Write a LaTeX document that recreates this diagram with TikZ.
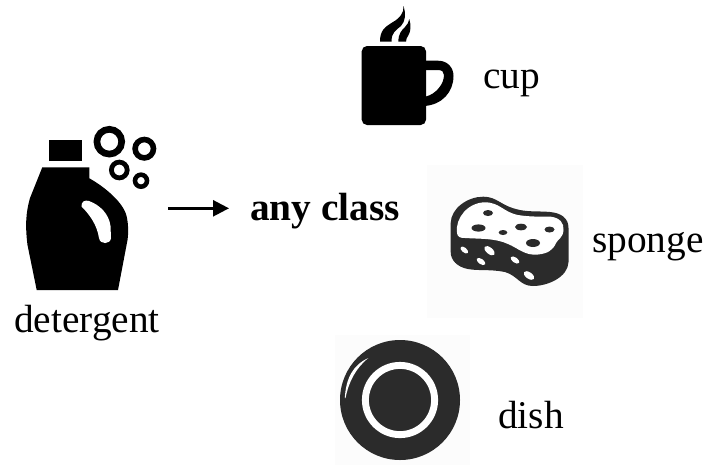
\documentclass[tikz,border=0pt]{standalone}
\usepackage{fontspec}
\setmainfont{Liberation Serif}
\usetikzlibrary{arrows.meta}
\definecolor{inkdark}{HTML}{2B2B2B}
\definecolor{paleback}{HTML}{FCFCFC}
\tikzset{
  lab/.style={inner sep=0pt,anchor=base west,font=\fontsize{29.5pt}{32pt}\selectfont},
  ring/.style={draw=black,fill=none},
  darkhole/.style={fill=inkdark},
  palehole/.style={fill=white},
  flow/.style={draw=black,line width=1.9pt,-{Triangle[length=12pt,width=12pt]}}
}
\begin{document}
\begin{tikzpicture}[x=0.75pt,y=-0.75pt]
\useasboundingbox (0,0) rectangle (706,465);
% bottle
\fill[black] (49,140) rectangle (82,161);
\fill[black] (42.3,167.3) -- (89.3,167.3) -- (89.3,178.3)
  .. controls (105,187) and (124,203) .. (126.7,216.7)
  .. controls (128.5,225) and (128.5,232) .. (127.5,240)
  -- (118,290) -- (36.7,290) -- (27.5,245)
  .. controls (25,225) and (26,212) .. (30,198) -- cycle;
\fill[white] (81.7,206.7) .. controls (80.5,202) and (85,199.5) .. (89,201)
  .. controls (100,205) and (109,214) .. (110.5,226)
  -- (111,238) .. controls (110.5,244.5) and (100,245) .. (99,238)
  .. controls (97,225) and (90,215) .. cycle;
\draw[ring,line width=5pt] (109.3,141.7) circle (12.4);
\draw[ring,line width=4.2pt] (144.3,148.7) circle (9.2);
\draw[ring,line width=3.6pt] (119.3,170) circle (7.9);
\draw[ring,line width=3.4pt] (141,180.7) circle (6);
\node[lab] (detergent) at (14,332) {detergent};
% arrow and label
\coordinate (arrowstart) at (168,208.3);
\node[lab,font=\fontsize{29.5pt}{32pt}\selectfont\bfseries] (anyclass) at (250,220.5) {any class};
\draw[flow,shorten >=21*0.75pt] (arrowstart) -- (arrowstart -| anyclass.west);
% cup
\fill[black,rounded corners=4pt] (361.7,46) rectangle (426,125);
\fill[black,even odd rule] (424,60.7) -- (438,60.7)
  .. controls (448,60.7) and (453.5,68) .. (453.5,76)
  .. controls (453.5,92) and (442,105) .. (424,106)
  -- (424,96.5) -- (426,96.5) .. controls (436,94) and (444,84) .. (444,75)
  .. controls (444,72) and (442,70) .. (438,70) -- (424,70) -- cycle;
\fill[black] (380,41.7) .. controls (380,30) and (385,27) .. (393,22)
  .. controls (400,18) and (404,13) .. (403.5,6)
  .. controls (406,14) and (405.5,21) .. (401,26)
  .. controls (396,30) and (391,33) .. (391.7,41.7) -- cycle;
\fill[black] (398.3,41.7) .. controls (398.5,33) and (402,30) .. (405,27)
  .. controls (407,25) and (409,22) .. (409.3,19)
  .. controls (411,25) and (411,31) .. (408.5,35)
  .. controls (407,37.5) and (406,39) .. (406,41.7) -- cycle;
\node[lab] (cup) at (483,88) {cup};
% sponge
\fill[paleback] (427,165) rectangle (583,318);
\fill[inkdark] (450.7,223) .. controls (451,208) and (468,196.7) .. (483,196.7)
  .. controls (498,196.7) and (500,206) .. (520,210)
  .. controls (530,212) and (540,211) .. (550,212)
  .. controls (561,213) and (568.5,218) .. (568.5,228)
  -- (568.5,262) .. controls (568,277) and (548,286) .. (533,286)
  .. controls (520,286) and (518,276) .. (505,272)
  .. controls (490,269) and (478,271) .. (468,269)
  .. controls (457,267) and (450.7,260) .. (450.7,252) -- cycle;
\fill[white] (457,233) .. controls (455,218) and (468,202.5) .. (485,202.3)
  .. controls (500,202.5) and (503,212) .. (518,215)
  .. controls (530,217) and (540,216.5) .. (551,216.7)
  .. controls (560,218) and (564,223) .. (563.5,230)
  .. controls (563,238) and (558,239) .. (556,243)
  .. controls (553,250) and (548,253.5) .. (538,254.5)
  .. controls (525,256) and (518,248) .. (508,244)
  .. controls (495,238) and (480,239) .. (465,238)
  .. controls (460,238) and (457.5,237) .. (457,233) -- cycle;
\fill[darkhole] (488,213) ellipse (5 and 3);
\fill[darkhole] (478.5,228) ellipse (7 and 3.6);
\fill[darkhole] (503,232.5) ellipse (4.3 and 2.5);
\fill[darkhole] (521,227) ellipse (6 and 3.3);
\fill[darkhole] (549.5,229.5) ellipse (5 and 3);
\fill[darkhole] (533,243) ellipse (7 and 4);
\fill[palehole] (464.3,250) ellipse[x radius=4.6,y radius=2.4,rotate=-40];
\fill[palehole] (489.5,250.7) ellipse[x radius=6.2,y radius=3.2,rotate=-40];
\fill[palehole] (481,261.5) ellipse[x radius=5,y radius=2.6,rotate=-35];
\fill[palehole] (515,260) ellipse[x radius=5,y radius=2.6,rotate=-35];
\fill[palehole] (529,275.5) ellipse[x radius=6,y radius=3.2,rotate=-35];
\node[lab] (sponge) at (592,252) {sponge};
% dish
\fill[paleback] (335,335) rectangle (470,465);
\fill[inkdark] (400,400) circle (60);
\draw[white,line width=5.2pt] (400,400) circle (34.6);
\fill[white] (344.8,398) .. controls (346,378) and (353,365) .. (368.3,358)
  .. controls (356,368) and (349,381) .. (345.5,398) -- cycle;
\node[lab] (dish) at (498,428) {dish};
\end{tikzpicture}
\end{document}
